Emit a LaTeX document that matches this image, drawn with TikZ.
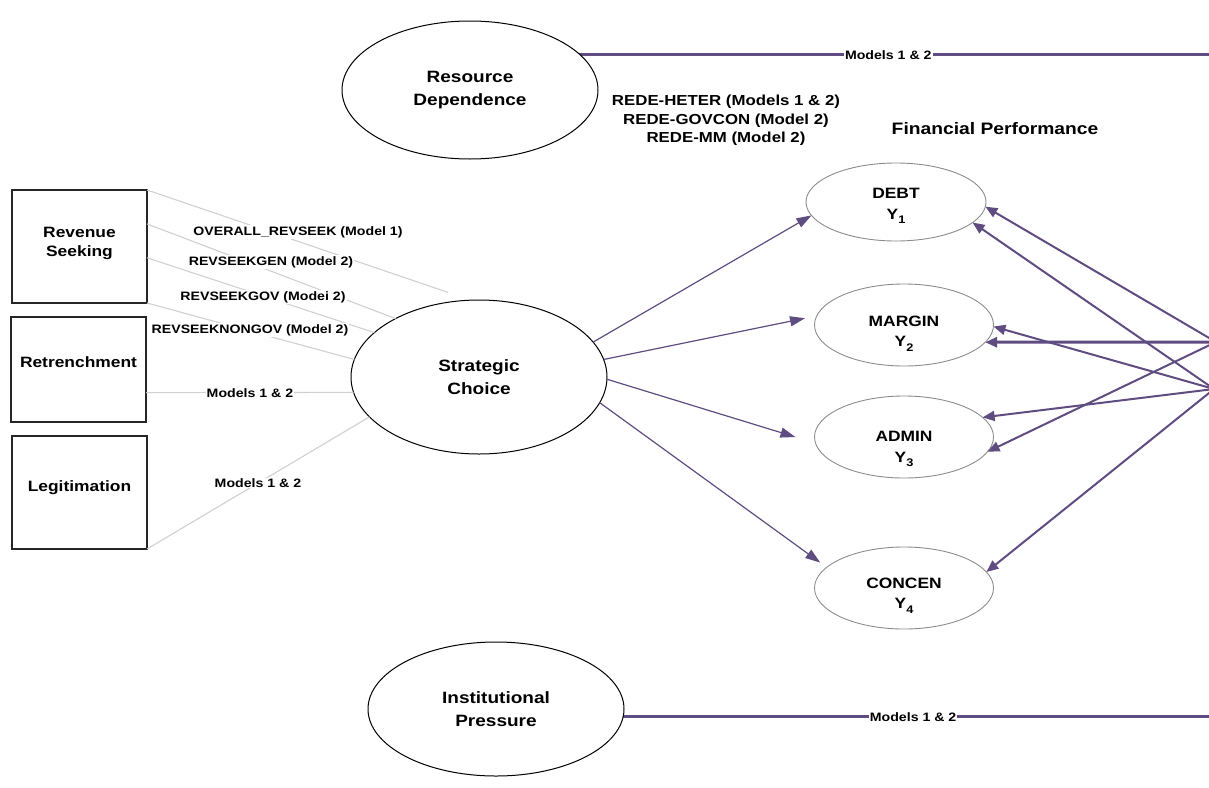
\documentclass[tikz,border=0pt]{standalone}
\usepackage{fontspec}
\setmainfont{Liberation Sans}[FakeStretch=1.16]
\usetikzlibrary{arrows.meta,calc,shapes.geometric}
\definecolor{plum}{RGB}{95,76,128}
\definecolor{faint}{RGB}{208,208,208}
\definecolor{rim}{RGB}{140,140,140}
\pgfdeclarelayer{background}
\pgfsetlayers{background,main}
% lowered index digit for the outcome variables
\newcommand{\yidx}[1]{Y\raisebox{-4.5pt}{\fontsize{11}{11}\selectfont #1}}

\begin{document}
\begin{tikzpicture}[x=1pt,y=-1pt,
  bigoval/.style={ellipse,draw=black,fill=white,line width=1pt,inner sep=0pt,outer sep=0pt,
    minimum width=256pt,align=center,font=\fontsize{16.4}{22.5}\selectfont\bfseries},
  yoval/.style={ellipse,draw=rim,line width=0.9pt,inner sep=0pt,outer sep=0pt,
    minimum width=179pt,minimum height=82pt},
  ytext/.style={align=center,font=\fontsize{15}{20.5}\selectfont\bfseries},
  factor/.style={rectangle,draw=black!85,line width=1.3pt,minimum width=135pt,inner sep=0pt,outer sep=0pt},
  boxtext/.style={align=center,font=\fontsize{15}{19.5}\selectfont\bfseries},
  pathlabel/.style={fill=white,inner sep=1pt,font=\fontsize{12.2}{14}\selectfont\bfseries},
  link/.style={draw=faint,line width=1.1pt},
  effect/.style={draw=plum,line width=1.2pt,-{Triangle[length=15pt,width=10pt]}},
  feed/.style={draw=plum,line width=2pt,-{Triangle[length=12pt,width=10pt]}},
  bar/.style={draw=plum,line width=3pt},
]
\useasboundingbox (0,0) rectangle (1209,787);

% latent constructs
\node[bigoval,minimum height=138pt] (rd) at (470,90) {Resource\\Dependence};
\node[bigoval,minimum height=154pt] (sc) at (479,377) {Strategic\\Choice};
\node[bigoval,minimum height=134pt] (ip) at (496,709) {Institutional\\Pressure};

% financial performance outcomes
\node[yoval,minimum width=180pt,minimum height=78pt] (debt) at (896,202) {};
\node[yoval] (margin) at (904,325) {};
\node[yoval] (admin) at (904,437) {};
\node[yoval] (concen) at (904,588) {};
\node[ytext] (debttext) at ([yshift=-4pt]debt.center) {DEBT\\\yidx{1}};
\node[ytext] (margintext) at ([yshift=-8.5pt]margin.center) {MARGIN\\\yidx{2}};
\node[ytext] (admintext) at ([yshift=-12pt]admin.center) {ADMIN\\\yidx{3}};
\node[ytext] (concentext) at ([yshift=-7.5pt]concen.center) {CONCEN\\\yidx{4}};

% strategy indicators
\node[factor,minimum height=113pt] (rs) at (79.5,246.5) {};
\node[factor,minimum height=105pt] (rt) at (78.5,369.5) {};
\node[factor,minimum height=113pt] (lg) at (79.5,492.5) {};
\node[boxtext] (rstext) at ([yshift=3pt]rs.center) {Revenue\\Seeking};
\node[boxtext] (rttext) at ([yshift=7pt]rt.center) {Retrenchment};
\node[boxtext] (lgtext) at ([yshift=5pt]lg.center) {Legitimation};

% headings
\node[align=center,font=\fontsize{14.5}{18.7}\selectfont\bfseries] (rede) at (726,120.5)
  {REDE-HETER (Models 1 \& 2)\\REDE-GOVCON (Model 2)\\REDE-MM (Model 2)};
\node[font=\fontsize{16.6}{20}\selectfont\bfseries] (fp) at (995,129) {Financial Performance};

% indicator paths into strategic choice
\draw[link,shorten >=24pt] (rs.north east) -- (sc.96.5);
\draw[link] ($(rs.north east)!0.3!(rs.south east)$) -- (sc.145);
\draw[link] ($(rs.north east)!0.6!(rs.south east)$) -- (sc.157.5);
\draw[link] (rs.south east) -- (sc.172.4);
\draw[link] ($(rt.north east)!0.72!(rt.south east)$) -- (sc.187);
\draw[link] (lg.south east) -- (sc.200);

\node[pathlabel] (l1) at (298,232) {OVERALL\_REVSEEK (Model 1)};
\node[pathlabel] (l2) at (271,262) {REVSEEKGEN (Model 2)};
\node[pathlabel] (l3) at (263,297) {REVSEEKGOV (Modei 2)};
\node[pathlabel] (l4) at (250,330) {REVSEEKNONGOV (Model 2)};
\node[pathlabel] (l5) at (250,393.5) {Models 1 \& 2};
\node[pathlabel] (l6) at (258,483) {Models 1 \& 2};

% strategic choice effects on outcomes
\draw[effect] (sc.17) -- (debt.189);
\draw[effect,shorten >=12pt] (sc.8) -- (margin.174);
\draw[effect,shorten >=21pt] (sc.-1) -- (admin.184);
\draw[effect,shorten >=8pt] (sc.-12.6) -- (concen.165);

% paths entering from the right
\coordinate (srcA) at (1216,342);
\coordinate (srcB) at (1214,389);
\draw[feed] (srcA) -- (debt.-3);
\draw[feed] (srcB) -- (debt.-15.4);
\draw[feed] (srcB) -- (margin.-1);
\draw[feed,line width=3pt] (srcA) -- (margin.-12);
\draw[feed] (srcB) -- (admin.14);
\draw[feed] (srcA) -- (admin.-10);
\draw[feed] (srcB) -- (concen.11);

% long horizontal paths
\coordinate (topEnd) at (1209,54);
\coordinate (botEnd) at (1209,716);
\begin{pgfonlayer}{background}
\draw[bar] (rd.center |- topEnd) -- node[pathlabel,pos=0.566,yshift=-1.5pt] (t1) {Models 1 \& 2} (topEnd);
\draw[bar] (ip.center |- botEnd) -- node[pathlabel,pos=0.585,yshift=-1.5pt] (t2) {Models 1 \& 2} (botEnd);
\end{pgfonlayer}
\end{tikzpicture}
\end{document}
